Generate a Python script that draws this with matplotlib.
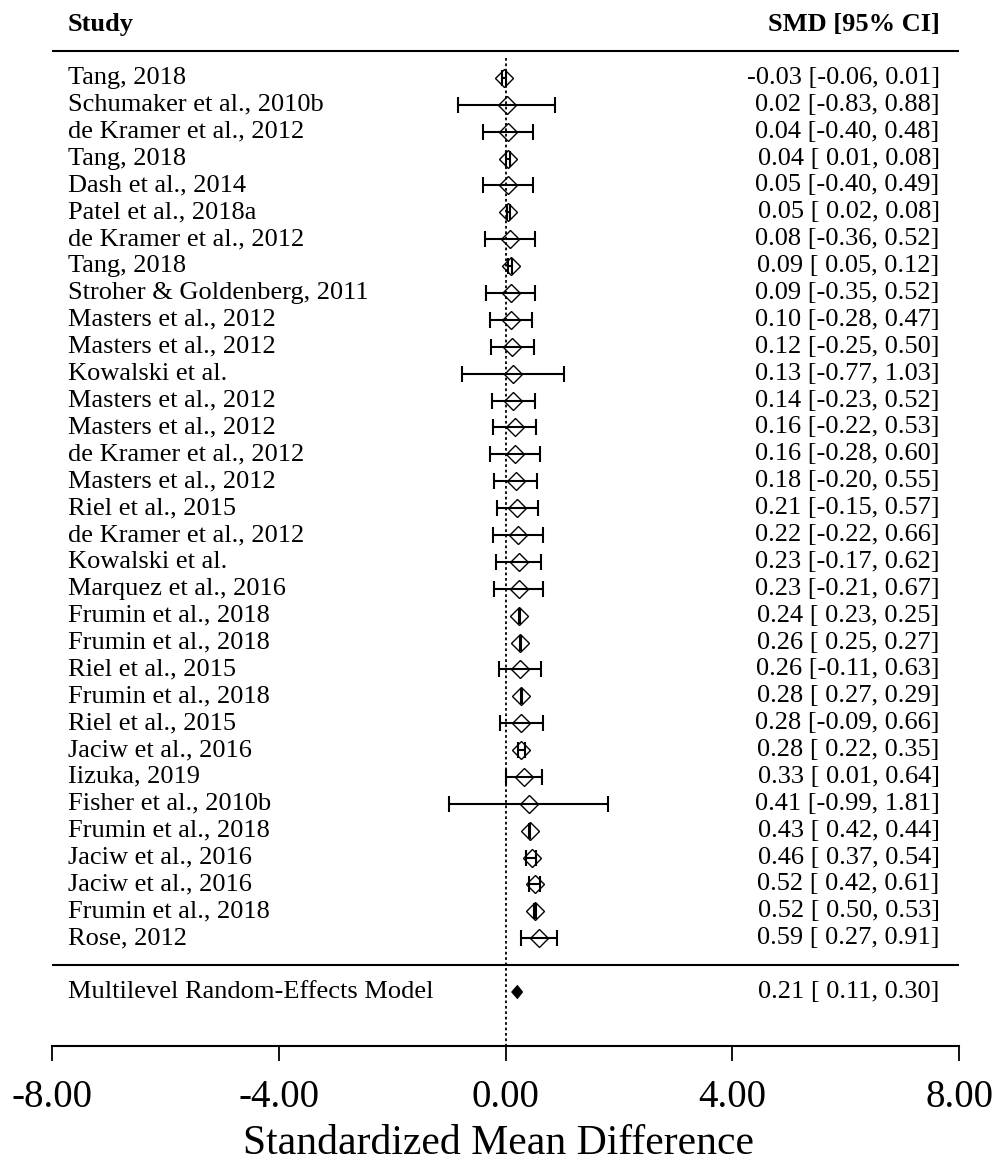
import matplotlib.pyplot as plt
from matplotlib.patches import Polygon

plt.rcParams['font.family'] = ['Liberation Serif', 'DejaVu Serif']

studies = ['Tang, 2018', 'Schumaker et al., 2010b', 'de Kramer et al., 2012', 'Tang, 2018',
           'Dash et al., 2014', 'Patel et al., 2018a', 'de Kramer et al., 2012', 'Tang, 2018',
           'Stroher & Goldenberg, 2011', 'Masters et al., 2012', 'Masters et al., 2012',
           'Kowalski et al.', 'Masters et al., 2012', 'Masters et al., 2012',
           'de Kramer et al., 2012', 'Masters et al., 2012', 'Riel et al., 2015',
           'de Kramer et al., 2012', 'Kowalski et al.', 'Marquez et al., 2016',
           'Frumin et al., 2018', 'Frumin et al., 2018', 'Riel et al., 2015',
           'Frumin et al., 2018', 'Riel et al., 2015', 'Jaciw et al., 2016', 'Iizuka, 2019',
           'Fisher et al., 2010b', 'Frumin et al., 2018', 'Jaciw et al., 2016',
           'Jaciw et al., 2016', 'Frumin et al., 2018', 'Rose, 2012']
smd = [-0.03, 0.02, 0.04, 0.04, 0.05, 0.05, 0.08, 0.09, 0.09, 0.10, 0.12, 0.13, 0.14, 0.16,
       0.16, 0.18, 0.21, 0.22, 0.23, 0.23, 0.24, 0.26, 0.26, 0.28, 0.28, 0.28, 0.33, 0.41,
       0.43, 0.46, 0.52, 0.52, 0.59]
ci_low = [-0.06, -0.83, -0.40, 0.01, -0.40, 0.02, -0.36, 0.05, -0.35, -0.28, -0.25, -0.77,
          -0.23, -0.22, -0.28, -0.20, -0.15, -0.22, -0.17, -0.21, 0.23, 0.25, -0.11, 0.27,
          -0.09, 0.22, 0.01, -0.99, 0.42, 0.37, 0.42, 0.50, 0.27]
ci_high = [0.01, 0.88, 0.48, 0.08, 0.49, 0.08, 0.52, 0.12, 0.52, 0.47, 0.50, 1.03, 0.52, 0.53,
           0.60, 0.55, 0.57, 0.66, 0.62, 0.67, 0.25, 0.27, 0.63, 0.29, 0.66, 0.35, 0.64, 1.81,
           0.44, 0.54, 0.61, 0.53, 0.91]

model_label = 'Multilevel Random-Effects Model'
model_smd, model_low, model_high = 0.21, 0.11, 0.30

ticks = [-8, -4, 0, 4, 8]

fs = 19
fig = plt.figure(figsize=(9.97, 11.63), dpi=100)
ax = fig.add_axes([0, 0, 1, 1])

# one unit of y = one study row
rows = list(range(len(studies)))
ax.set_xlim(-8.917, 8.670)
ax.set_ylim(40.36, -2.90)

ax.errorbar(smd, rows, xerr=[[s - l for s, l in zip(smd, ci_low)],
                             [h - s for s, h in zip(smd, ci_high)]],
            fmt='none', ecolor='black', elinewidth=1.5, capsize=5.5, capthick=1.5, zorder=3)
ax.plot(smd, rows, ls='none', marker='D', markersize=9.5, markerfacecolor='none',
        markeredgecolor='black', markeredgewidth=1.0, zorder=4)

# pooled estimate
y_model = len(studies) + 1
ax.add_patch(Polygon([(model_low, y_model), (model_smd, y_model - 0.24),
                      (model_high, y_model), (model_smd, y_model + 0.24)],
                     closed=True, facecolor='black', edgecolor='black', lw=0.8, zorder=4))

ax.vlines(0, -0.75, 36, colors='black', linestyles=(0, (1.5, 1.5)), lw=1.3, zorder=2)
ax.hlines([-1, len(studies)], -8, 8, colors='black', lw=1.5)

for i, name in enumerate(studies):
    ax.text(-7.72, i, name, ha='left', va='center', fontsize=fs)
    ax.text(7.66, i, f'{smd[i]:.2f} [{ci_low[i]:5.2f}, {ci_high[i]:.2f}]',
            ha='right', va='center', fontsize=fs)

ax.text(-7.72, y_model, model_label, ha='left', va='center', fontsize=fs)
ax.text(7.66, y_model, f'{model_smd:.2f} [{model_low:5.2f}, {model_high:.2f}]',
        ha='right', va='center', fontsize=fs)

ax.text(-7.72, -2, 'Study', ha='left', va='center', fontsize=fs, fontweight='bold')
ax.text(7.66, -2, 'SMD [95% CI]', ha='right', va='center', fontsize=fs, fontweight='bold')

for side in ['left', 'right', 'top']:
    ax.spines[side].set_visible(False)
ax.spines['bottom'].set_position(('data', 36))
ax.spines['bottom'].set_bounds(-8, 8)
ax.spines['bottom'].set_linewidth(1.5)
ax.set_yticks([])
ax.set_xticks(ticks)
ax.set_xticklabels([f'{t:.2f}' for t in ticks])
ax.tick_params(axis='x', direction='out', length=11, width=1.3, pad=13, labelsize=28)
ax.set_xlabel('Standardized Mean Difference', fontsize=30, labelpad=6)

fig.savefig('out.png', dpi=100)
